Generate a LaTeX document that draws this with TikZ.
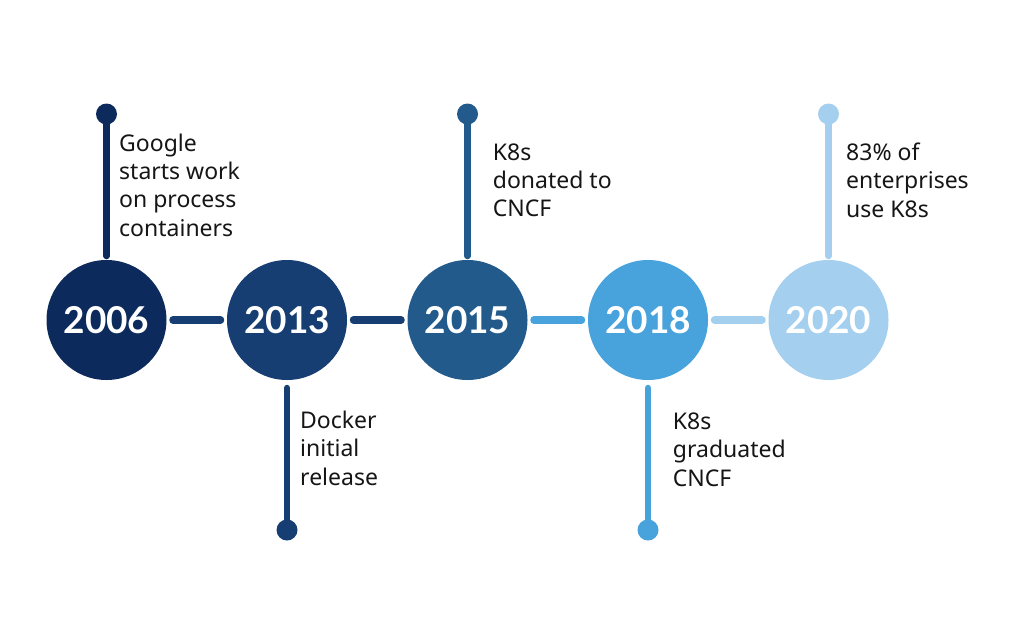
\documentclass[tikz,border=0pt]{standalone}
\usepackage{fontspec}
\setmainfont{Lato}
\newfontfamily\notefont{Noto Sans}
\usetikzlibrary{positioning}
\definecolor{c2006}{HTML}{0C2A5B}
\definecolor{c2013}{HTML}{163E72}
\definecolor{c2015}{HTML}{235A8C}
\definecolor{c2018}{HTML}{48A2DB}
\definecolor{c2020}{HTML}{A4CFEE}
\definecolor{ink}{HTML}{151515}
\begin{document}
\begin{tikzpicture}[x=1pt,y=-1pt,node distance=60.5pt,
  year/.style={circle,minimum size=120pt,inner sep=0pt,outer sep=0pt,text=white,
    font=\fontsize{37}{37}\selectfont\bfseries},
  dot/.style={circle,minimum size=21pt,inner sep=0pt,outer sep=0pt},
  link/.style={line width=7.5pt,line cap=round,shorten <=6.5pt,shorten >=6.5pt},
  stem/.style={line width=6.5pt,line cap=round,shorten <=4pt},
  note/.style={anchor=base west,inner sep=0pt,align=left,text=ink,
    font=\notefont\fontsize{23}{28.3}\selectfont}]

\useasboundingbox (0,0) rectangle (1024,616);

% define the years on the line
  \node[year, fill=c2006] (y2006) at (106.5,320) {2006};
  \node[year, fill=c2013] (y2013) [right=of y2006] {2013};
  \node[year, fill=c2015] (y2015) [right=of y2013] {2015};
  \node[year, fill=c2018] (y2018) [right=of y2015] {2018};
  \node[year, fill=c2020] (y2020) [right=of y2018] {2020};

% define the dots at the ends of the stems
  \node[dot, fill=c2006] (d2006) [above=135.5pt of y2006] {};
  \node[dot, fill=c2013] (d2013) [below=139.5pt of y2013] {};
  \node[dot, fill=c2015] (d2015) [above=135.5pt of y2015] {};
  \node[dot, fill=c2018] (d2018) [below=139.5pt of y2018] {};
  \node[dot, fill=c2020] (d2020) [above=135.5pt of y2020] {};

% define the links
  \path[link] (y2006) edge[c2013] (y2013)
              (y2013) edge[c2013] (y2015)
              (y2015) edge[c2018] (y2018)
              (y2018) edge[c2020] (y2020);

  \path[stem] (y2006) edge[c2006] (d2006)
              (y2013) edge[c2013, shorten <=8pt] (d2013)
              (y2015) edge[c2015] (d2015)
              (y2018) edge[c2018, shorten <=8pt] (d2018)
              (y2020) edge[c2020] (d2020);

% define the notes
  \node[note] (n2006) at (119,236) {Google\\starts work\\on process\\containers};
  \node[note] (n2013) at (300,485) {Docker\\initial\\release};
  \node[note] (n2015) at (492.7,216.7) {K8s\\donated to\\CNCF};
  \node[note] (n2018) at (672.7,486) {K8s\\graduated\\CNCF};
  \node[note] (n2020) at (846,217) {83\% of\\enterprises\\use K8s};

\end{tikzpicture}
\end{document}
